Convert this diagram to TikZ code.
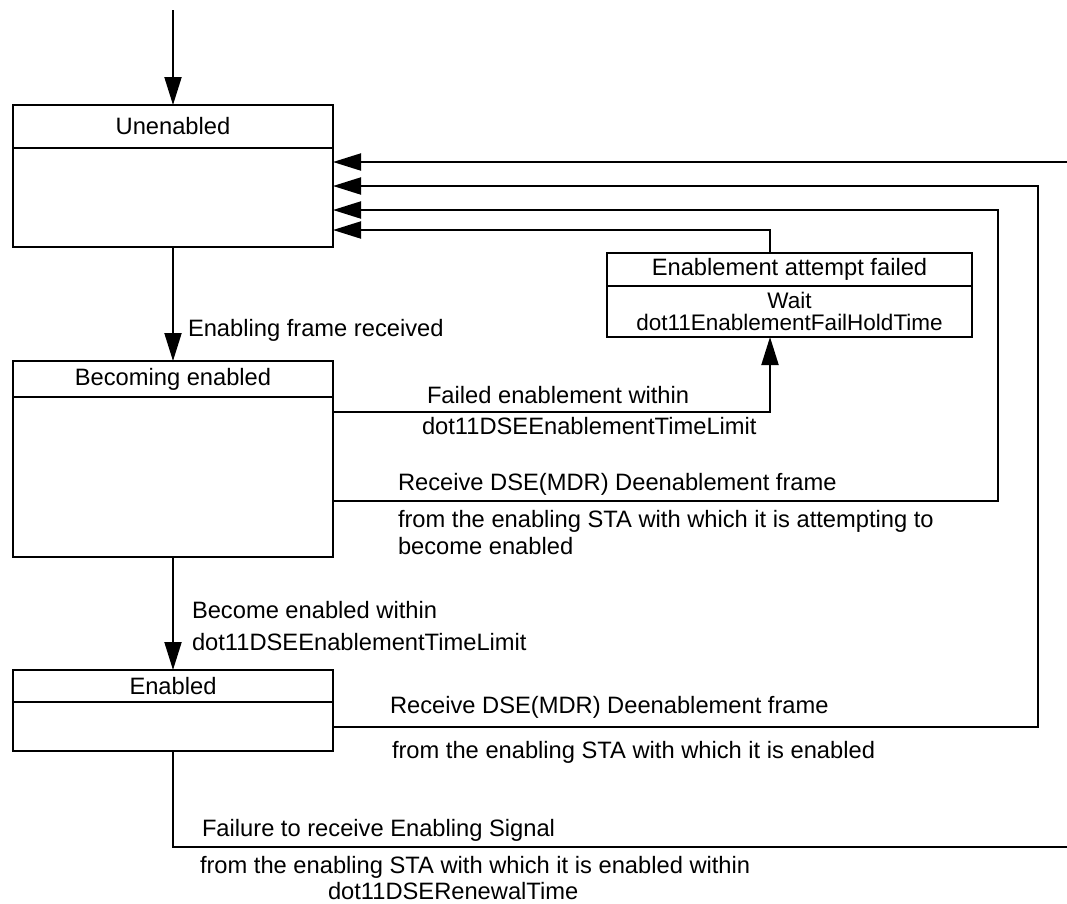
\documentclass[tikz,border=0pt]{standalone}
\usepackage{fontspec}
\setmainfont{Liberation Sans}
\usetikzlibrary{arrows.meta,positioning}

\begin{document}
\begin{tikzpicture}[x=1pt, y=-1pt, >={Triangle[length=28pt,width=17pt]}, line width=2pt,
    every node/.style={font=\fontsize{23.7}{28}\selectfont, inner sep=0pt, outer sep=0pt},
    headbox/.style={draw, minimum width=320pt},
    bodybox/.style={draw, minimum width=320pt},
    lbl/.style={anchor=base west}]
    \useasboundingbox (0,0) rectangle (1067,903);

    % State Unenabled
    \node[headbox, minimum height=43pt] (unenH) at (173,126.5) {Unenabled};
    \node[bodybox, minimum height=99pt, below=0pt of unenH] (unenB) {};

    % State Becoming enabled
    \node[headbox, minimum height=36pt] (becH) at (173,379) {Becoming enabled};
    \node[bodybox, minimum height=160pt, below=0pt of becH] (becB) {};

    % State Enabled
    \node[headbox, minimum height=32pt] (enH) at (173,686) {Enabled};
    \node[bodybox, minimum height=49pt, below=0pt of enH] (enB) {};

    % State Enablement attempt failed
    \node[headbox, minimum width=365pt, minimum height=33pt] (failH) at (789.5,269.5) {Enablement attempt failed};
    \node[bodybox, minimum width=365pt, minimum height=51pt, below=0pt of failH, align=center,
        font=\fontsize{22.5}{22.5}\selectfont] (failB) {Wait\\dot11EnablementFailHoldTime};

    % Points on the right side
    \coordinate (start) at (173,10);
    \coordinate (retA) at (1067,162);
    \coordinate (retB) at (1038,186);
    \coordinate (retC) at (998,210);
    \coordinate (retD) at (770,230);
    \coordinate (outE) at (1067,847);

    % Transitions down the left side
    \draw[->] (start) -- (unenH);
    \draw[->] (unenB) -- (becH);
    \draw[->] (becB) -- (enH);
    \draw (enB.south) |- (outE);

    % Transitions back to Unenabled
    \draw[->] (retA) -- (unenB.east |- retA);
    \draw[->] (enB.east) -| (retB) -- (unenB.east |- retB);
    \draw[->] ([yshift=-24pt]becB.east) -| (retC) -- (unenB.east |- retC);
    \draw[->] (failH.north -| retD) -- (retD) -- (unenB.east |- retD);
    \draw[->] ([yshift=65pt]becB.east) -| (failB.south -| retD);

    % Labels
    \node[lbl] (lRecv) at (188,336) {Enabling frame received};
    \node[lbl] (lFail) at (427,403) {Failed enablement within};
    \node[lbl] (lFailT) at (422,434) {dot11DSEEnablementTimeLimit};
    \node[lbl] (lDeenA) at (398,490) {Receive DSE(MDR) Deenablement frame};
    \node[lbl] (lFromA) at (398,527) {from the enabling STA with which it is attempting to};
    \node[lbl] (lFromA2) at (398,554) {become enabled};
    \node[lbl] (lBecome) at (192,618) {Become enabled within};
    \node[lbl] (lBecomeT) at (192,650) {dot11DSEEnablementTimeLimit};
    \node[lbl] (lDeenB) at (390,713) {Receive DSE(MDR) Deenablement frame};
    \node[lbl] (lFromB) at (392,758) {from the enabling STA with which it is enabled};
    \node[lbl] (lSignal) at (202,836) {Failure to receive Enabling Signal};
    \node[lbl] (lFromC) at (200,873) {from the enabling STA with which it is enabled within};
    \node[lbl] (lRenew) at (328,899) {dot11DSERenewalTime};
\end{tikzpicture}
\end{document}
